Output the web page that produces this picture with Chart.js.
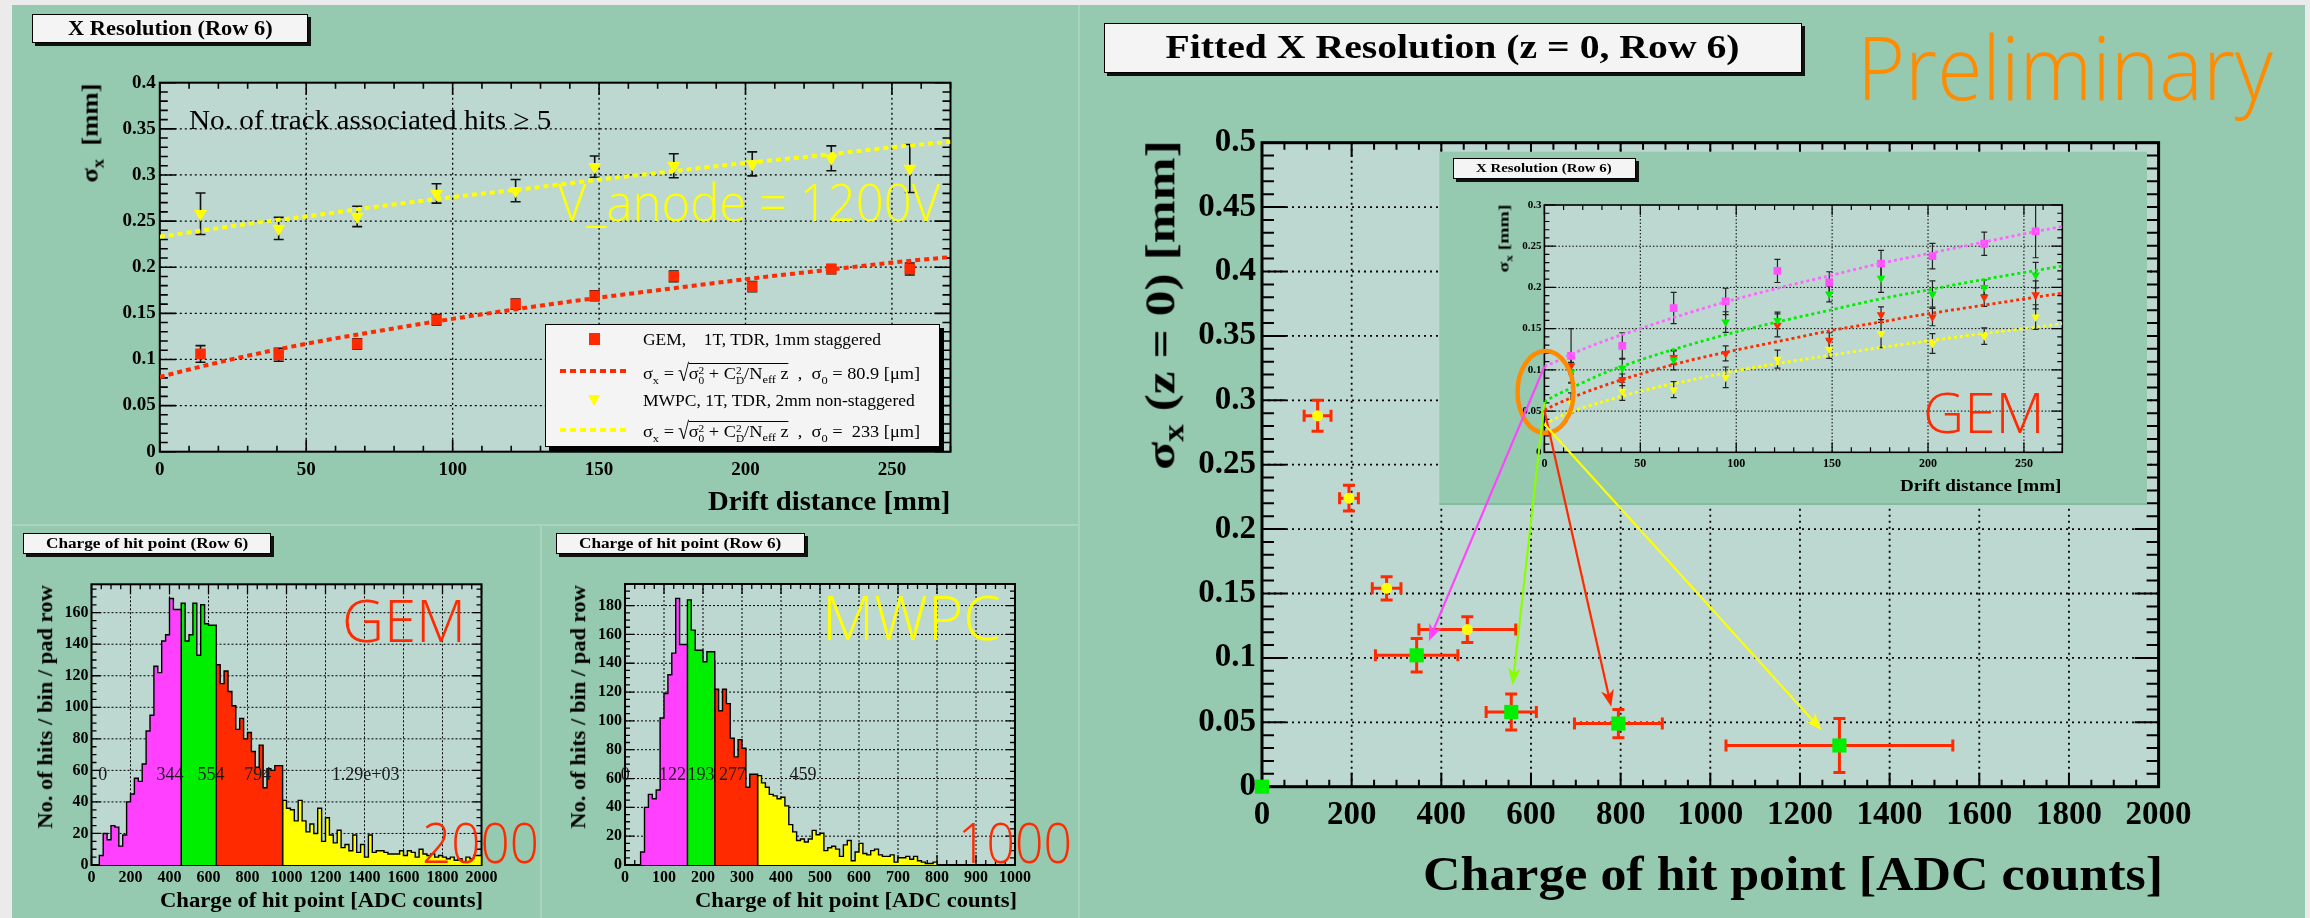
<!DOCTYPE html>
<html>
<head>
<meta charset="utf-8">
<title>X resolution vs hit charge</title>
<script src="https://cdn.jsdelivr.net/npm/chart.js@4.4.1/dist/chart.umd.min.js"></script>
<style>
  body { margin: 0; background: #ebebeb; }
  #page { position: relative; width: 2310px; height: 918px; overflow: hidden; background: #ebebeb;
          font-family: "Liberation Serif", "Times New Roman", serif; color: #000; }
  .pane { position: absolute; background: #95c9b0; }
  canvas { position: absolute; }
  .tbox { position: absolute; box-sizing: border-box; background: #f4f4f4; border: 1.5px solid #000;
          box-shadow: 3px 3px 0 #111; display: flex; align-items: center; justify-content: center;
          font-weight: bold; white-space: nowrap; }
  .tbox span { display: inline-block; }
  .txt { position: absolute; white-space: nowrap; line-height: 1; transform-origin: 0 0; }
  .txt sub, .txt sup { line-height: 0; font-size: 0.68em; }
  .bl { display: inline-block; width: 0; height: 0; }
  .big { font-family: "Open Sans", sans-serif; font-weight: 300; }
  .bold { font-weight: bold; }
  .ss { display: inline-flex; flex-direction: column; font-size: 0.62em; line-height: 1; vertical-align: 0.55em; }
  .ss span { display: block; }
  .rad { display: inline-block; transform: scale(1.1, 1.5); transform-origin: 50% 62%; }
  .ov { border-top: 1.5px solid #000; padding-top: 1px; }
</style>
</head>
<body>
<div id="page">
  <div class="pane" style="left:12px;top:5px;width:2293px;height:913px;background:#a8d4bf"></div>
  <div class="pane" style="left:12px;top:5px;width:1066px;height:519px"></div>
  <div class="pane" style="left:12px;top:526px;width:528px;height:392px"></div>
  <div class="pane" style="left:542px;top:526px;width:536px;height:392px"></div>
  <div class="pane" style="left:1080px;top:5px;width:1225px;height:913px"></div>
</div>
<script>
// ---- top left: X resolution vs drift distance ----
const driftX = [13.9, 40.6, 67.4, 94.5, 121.5, 148.5, 175.5, 202.3, 229.3, 256.1];
const tlGem = [0.106, 0.105, 0.117, 0.143, 0.160, 0.169, 0.190, 0.179, 0.198, 0.198];
const tlGemErr = [0.009, 0.007, 0.0055, 0.0057, 0.0055, 0.0054, 0.0057, 0.0055, 0.005, 0.0065];
const tlMwpc = [0.258, 0.242, 0.255, 0.280, 0.283, 0.309, 0.310, 0.312, 0.318, 0.307];
const tlMwpcErr = [0.0225, 0.012, 0.011, 0.0105, 0.012, 0.0115, 0.013, 0.013, 0.0135, 0.026];
const tlFitX = [0, 15, 30, 50, 75, 100, 125, 150, 175, 200, 225, 250, 270];
const tlGemFit = [0.081, 0.093, 0.104, 0.117, 0.131, 0.144, 0.156, 0.167, 0.177, 0.187, 0.196, 0.205, 0.211];
const tlMwpcFit = [0.233, 0.240, 0.247, 0.255, 0.266, 0.276, 0.285, 0.295, 0.304, 0.313, 0.321, 0.330, 0.336];

// ---- charge histograms (20 ADC bins for GEM, 10 ADC bins for MWPC) ----
const gemCounts = [
  0, 0, 0, 6, 20, 16, 25, 24, 12, 19,
  40, 45, 55, 53, 64, 85, 95, 126, 122, 142,
  146, 169, 162, 158, 166, 142, 146, 166, 133, 165,
  153, 152, 80, 127, 115, 123, 110, 101, 86, 93,
  80, 84, 72, 62, 76, 49, 61, 60, 63, 22,
  41, 36, 35, 28, 41, 28, 21, 26, 20, 36,
  15, 30, 19, 14, 22, 11, 13, 9, 19, 8,
  13, 5, 19, 8, 9, 9, 8, 7, 7, 7,
  9, 6, 9, 8, 5, 10, 7, 6, 7, 5,
  6, 5, 4, 5, 3, 4, 2, 5, 4, 6];
const mwpcCounts = [
  0, 0, 0, 0, 0, 9, 40, 49, 46, 52,
  102, 119, 132, 147, 185, 153, 164, 184, 163, 149,
  149, 141, 148, 142, 122, 107, 122, 112, 88, 75,
  87, 81, 54, 63, 60, 62, 57, 54, 49, 48,
  46, 47, 41, 28, 23, 17, 18, 16, 18, 24,
  21, 22, 10, 12, 13, 11, 6, 14, 17, 3,
  9, 15, 8, 7, 10, 11, 7, 6, 6, 7,
  2, 5, 5, 6, 4, 6, 3, 2, 1, 1,
  2, 0, 0, 0, 0, 0, 0, 0, 0, 0,
  0, 0, 0, 0, 0, 0, 0, 0, 0, 0];
const gemBandEdges = [0, 460, 640, 980, 2000];
const mwpcBandEdges = [0, 160, 230, 340, 1000];
const gemMeanText = ['0', '344', '554', '794', '1.29e+03'];
const gemMeanTextX = [34, 333, 544, 783, 1232];
const mwpcMeanText = ['0', '122', '193', '277', '459'];
const mwpcMeanTextX = [-11, 87, 160, 241, 422];

// ---- right: fitted sigma_0 vs charge ----
const mwpcQ = [124, 194, 278, 458];
const mwpcQErr = [30, 21, 32, 108];
const mwpcS0 = [0.288, 0.224, 0.154, 0.122];
const mwpcS0Err = [0.012, 0.010, 0.009, 0.010];
const gemQ = [0, 345, 556, 795, 1288];
const gemQErr = [0, 92, 56, 98, 253];
const gemS0 = [0, 0.102, 0.058, 0.049, 0.032];
const gemS0Err = [0, 0.013, 0.014, 0.011, 0.021];
const arrowToQ = [372, 559, 779, 1248];
const arrowToS = [0.113, 0.079, 0.062, 0.044];

// ---- inset: GEM resolution per charge band ----
const insMag = [0.117, 0.129, 0.175, 0.183, 0.220, 0.206, 0.229, 0.238, 0.253, 0.268];
const insMagErr = [0.033, 0.016, 0.019, 0.016, 0.014, 0.013, 0.016, 0.0155, 0.014, 0.032];
const insGreen = [0.097, 0.102, 0.112, 0.158, 0.160, 0.192, 0.211, 0.192, 0.200, 0.215];
const insGreenErr = [0.012, 0.012, 0.012, 0.0125, 0.010, 0.0095, 0.017, 0.016, 0.009, 0.0155];
const insRed = [0.105, 0.088, 0.115, 0.120, 0.154, 0.136, 0.167, 0.164, 0.188, 0.191];
const insRedErr = [0.010, 0.007, 0.008, 0.009, 0.014, 0.009, 0.0095, 0.0105, 0.011, 0.017];
const insYellow = [0.060, 0.074, 0.076, 0.091, 0.113, 0.125, 0.144, 0.132, 0.141, 0.164];
const insYellowErr = [0.012, 0.011, 0.0097, 0.0125, 0.011, 0.011, 0.017, 0.012, 0.010, 0.015];
const insFitX = [0, 5, 15, 30, 50, 75, 100, 125, 150, 175, 200, 225, 250, 270];
const insMagFit = [0.104, 0.109, 0.120, 0.134, 0.150, 0.169, 0.186, 0.201, 0.215, 0.229, 0.241, 0.253, 0.265, 0.274];
const insGreenFit = [0.061, 0.068, 0.079, 0.095, 0.112, 0.130, 0.146, 0.160, 0.173, 0.186, 0.197, 0.208, 0.218, 0.226];
const insRedFit = [0.051, 0.057, 0.067, 0.080, 0.095, 0.111, 0.124, 0.136, 0.148, 0.158, 0.168, 0.177, 0.186, 0.193];
const insYellowFit = [0.034, 0.040, 0.050, 0.061, 0.074, 0.087, 0.099, 0.109, 0.118, 0.127, 0.135, 0.143, 0.150, 0.156];

const RED = '#ff2a00', YEL = '#ffff00', GRN = '#00ee00', MAG = '#ff50ff';
const bandColors = ['#ff40ff', '#00ee00', '#ff2a00', '#ffff00'];
const PLOT_BG = '#bdd8d0', PANE = '#95c9b0';

Chart.defaults.font.family = 'Liberation Serif';
Chart.defaults.animation = false;
Chart.defaults.events = [];
Chart.defaults.plugins.legend.display = false;
Chart.defaults.plugins.tooltip.enabled = false;

const page = document.getElementById('page');
const deco = {};   // per-canvas drawing settings for the plugins below

function tickVals(min, max, step) {
  const out = [];
  for (let k = Math.ceil(min / step - 1e-6); k * step <= max + 1e-9; k++) out.push(k * step);
  return out;
}

// ROOT-like frame: plot background, dotted grid, inward ticks on all sides
const rootFrame = {
  id: 'rootFrame',
  beforeDraw(chart) {
    const d = deco[chart.canvas.id], a = chart.chartArea, ctx = chart.ctx;
    ctx.save();
    if (d.box) {
      ctx.fillStyle = PANE;
      ctx.fillRect(a.left - d.box[0], a.top - d.box[1], a.right - a.left + d.box[0] + d.box[2], a.bottom - a.top + d.box[1] + d.box[3]);
      ctx.fillStyle = '#83bb9f';
      ctx.fillRect(a.left - d.box[0], a.bottom + d.box[3] - 2, a.right - a.left + d.box[0] + d.box[2], 2);
    }
    ctx.fillStyle = PLOT_BG;
    ctx.fillRect(a.left, a.top, a.right - a.left, a.bottom - a.top);
    ctx.restore();
  },
  beforeDatasetsDraw(chart) {
    const d = deco[chart.canvas.id], a = chart.chartArea, ctx = chart.ctx;
    const xs = chart.scales.x, ys = chart.scales.y;
    ctx.save();
    ctx.strokeStyle = '#000';
    ctx.lineWidth = d.gridW;
    ctx.setLineDash(d.dash);
    ctx.beginPath();
    tickVals(xs.min, xs.max, d.x[0]).forEach(v => {
      const p = xs.getPixelForValue(v);
      if (p > a.left + 2 && p < a.right - 2) { ctx.moveTo(p, a.top); ctx.lineTo(p, a.bottom); }
    });
    tickVals(ys.min, ys.max, d.y[0]).forEach(v => {
      const p = ys.getPixelForValue(v);
      if (p > a.top + 2 && p < a.bottom - 2) { ctx.moveTo(a.left, p); ctx.lineTo(a.right, p); }
    });
    ctx.stroke();
    ctx.setLineDash([]);
    ctx.lineWidth = d.tickW;
    ctx.beginPath();
    [[d.x[0], d.x[2]], [d.x[1], d.x[3]]].forEach(([step, len]) => {
      tickVals(xs.min, xs.max, step).forEach(v => {
        const p = xs.getPixelForValue(v);
        ctx.moveTo(p, a.bottom); ctx.lineTo(p, a.bottom - len);
        ctx.moveTo(p, a.top); ctx.lineTo(p, a.top + len);
      });
    });
    [[d.y[0], d.y[2]], [d.y[1], d.y[3]]].forEach(([step, len]) => {
      tickVals(ys.min, ys.max, step).forEach(v => {
        const p = ys.getPixelForValue(v);
        ctx.moveTo(a.left, p); ctx.lineTo(a.left + len, p);
        ctx.moveTo(a.right, p); ctx.lineTo(a.right - len, p);
      });
    });
    ctx.stroke();
    ctx.lineWidth = d.frameW;
    ctx.strokeRect(a.left, a.top, a.right - a.left, a.bottom - a.top);
    ctx.restore();
  }
};

// error bars with end caps, read from x/y/ex/ey of each point
const errorBars = {
  id: 'errorBars',
  beforeDatasetsDraw(chart) {
    const ctx = chart.ctx;
    chart.data.datasets.forEach((ds, i) => {
      const eb = ds.errorBars;
      if (!eb) return;
      const meta = chart.getDatasetMeta(i);
      const xs = chart.scales[meta.xAxisID], ys = chart.scales[meta.yAxisID];
      ctx.save();
      ctx.strokeStyle = eb.color;
      ctx.lineWidth = eb.width;
      ctx.beginPath();
      ds.data.forEach(p => {
        const px = xs.getPixelForValue(p.x), py = ys.getPixelForValue(p.y), c = eb.cap / 2;
        if (p.ey) {
          const y1 = ys.getPixelForValue(p.y - p.ey), y2 = ys.getPixelForValue(p.y + p.ey);
          ctx.moveTo(px, y1); ctx.lineTo(px, y2);
          ctx.moveTo(px - c, y1); ctx.lineTo(px + c, y1);
          ctx.moveTo(px - c, y2); ctx.lineTo(px + c, y2);
        }
        if (p.ex) {
          const x1 = xs.getPixelForValue(p.x - p.ex), x2 = xs.getPixelForValue(p.x + p.ex);
          ctx.moveTo(x1, py); ctx.lineTo(x2, py);
          ctx.moveTo(x1, py - c); ctx.lineTo(x1, py + c);
          ctx.moveTo(x2, py - c); ctx.lineTo(x2, py + c);
        }
      });
      ctx.stroke();
      ctx.restore();
    });
  }
};

// band mean values written inside the histograms
const meanLabels = {
  id: 'meanLabels',
  afterDatasetsDraw(chart) {
    const d = deco[chart.canvas.id];
    if (!d.texts) return;
    const ctx = chart.ctx;
    ctx.save();
    ctx.font = '18px "Liberation Serif"';
    ctx.fillStyle = '#1a1a1a';
    ctx.textAlign = 'left';
    ctx.textBaseline = 'middle';
    d.texts.forEach((t, i) => ctx.fillText(t, chart.scales.x.getPixelForValue(d.textX[i]), chart.scales.y.getPixelForValue(d.textY)));
    ctx.restore();
  }
};

let mainChart = null;
function drawArrow(ctx, x0, y0, x1, y1, color) {
  const ang = Math.atan2(y1 - y0, x1 - x0), c = Math.cos(ang), s = Math.sin(ang);
  const L = 17, W = 6.5;
  ctx.strokeStyle = color; ctx.fillStyle = color; ctx.lineWidth = 2.2;
  ctx.beginPath(); ctx.moveTo(x0, y0); ctx.lineTo(x1 - 10 * c, y1 - 10 * s); ctx.stroke();
  const bx = x1 - L * c, by = y1 - L * s;
  ctx.beginPath();
  ctx.moveTo(x1, y1);
  ctx.lineTo(bx - W * s, by + W * c);
  ctx.lineTo(x1 - 0.72 * L * c, y1 - 0.72 * L * s);
  ctx.lineTo(bx + W * s, by - W * c);
  ctx.closePath(); ctx.fill();
}
// orange ring round the inset origin and arrows to the fitted points
const insetArrows = {
  id: 'insetArrows',
  afterDraw(chart) {
    if (!mainChart) return;
    const ctx = chart.ctx, xs = chart.scales.x, ys = chart.scales.y;
    const ms = mainChart.scales;
    ctx.save();
    ctx.strokeStyle = '#ff8c00'; ctx.lineWidth = 4.5;
    ctx.beginPath();
    ctx.ellipse(xs.getPixelForValue(0.6), ys.getPixelForValue(0.073), 28, 41, 0, 0, Math.PI * 2);
    ctx.stroke();
    const starts = [insMagFit[0], insGreenFit[0], insRedFit[0], insYellowFit[0]];
    const cols = ['#ff44ff', '#88ff00', '#ff2a00', '#ffff00'];
    starts.forEach((s0, i) => drawArrow(ctx, xs.getPixelForValue(0), ys.getPixelForValue(s0),
      ms.x.getPixelForValue(arrowToQ[i]), ms.y.getPixelForValue(arrowToS[i]), cols[i]));
    ctx.restore();
  }
};

function makeCanvas(id, cv) {
  const c = document.createElement('canvas');
  c.id = id; c.width = cv.w; c.height = cv.h;
  c.style.left = cv.x + 'px'; c.style.top = cv.y + 'px';
  page.appendChild(c);
  return c;
}
function padFor(cv, pl, yW, xH) {
  return { left: pl.l - cv.x - yW, top: pl.t - cv.y, right: cv.x + cv.w - pl.r, bottom: cv.y + cv.h - pl.b - xH };
}
function axis(min, max, step, size, pad, fixed, isY) {
  return {
    type: 'linear', min, max,
    grid: { display: false, drawTicks: false },
    border: { display: false },
    ticks: {
      stepSize: step, autoSkip: false, maxRotation: 0, minRotation: 0, includeBounds: false,
      padding: pad, color: '#000', font: { family: 'Liberation Serif', weight: 'bold', size },
      callback: v => String(Math.round(v * 1000) / 1000)
    },
    afterFit: s => { if (isY) s.width = fixed; else s.height = fixed; }
  };
}
function pts(xs, ys, errs) {
  return xs.map((x, i) => ({ x, y: ys[i], ey: errs ? errs[i] : 0 }));
}
function curve(xs, ys, color, width, dash) {
  return { data: pts(xs, ys), showLine: true, pointRadius: 0, borderColor: color, borderWidth: width,
           borderDash: dash, cubicInterpolationMode: 'monotone', fill: false };
}
function histSets(counts, edges, w) {
  const sets = [];
  for (let b = 0; b < 4; b++) {
    const lo = edges[b], hi = edges[b + 1];
    const data = [{ x: lo, y: 0 }];
    for (let i = Math.round(lo / w); i < Math.round(hi / w); i++) data.push({ x: i * w, y: counts[i] });
    data.push({ x: hi, y: counts[Math.round(hi / w) - 1] }, { x: hi, y: 0 });
    sets.push({ data, showLine: true, stepped: 'after', fill: 'origin', backgroundColor: bandColors[b],
                borderColor: '#000', borderWidth: 1.4, pointRadius: 0 });
  }
  return sets;
}
const plugins = [rootFrame, errorBars, meanLabels, insetArrows];

// ===== top-left chart =====
(function () {
  const cv = { x: 12, y: 5, w: 1066, h: 519 }, pl = { l: 159.8, t: 82.7, r: 950.5, b: 451.7 };
  deco.tl = { gridW: 1.3, dash: [2, 3], tickW: 1.6, frameW: 2, x: [50, 10, 12, 6], y: [0.05, 0.01, 16, 8] };
  new Chart(makeCanvas('tl', cv), {
    type: 'scatter',
    data: { datasets: [
      { data: pts(driftX, tlGem, tlGemErr), pointStyle: 'rect', pointRadius: 7.5, backgroundColor: RED, borderWidth: 0,
        errorBars: { color: '#111', width: 1.6, cap: 10 } },
      { data: pts(driftX, tlMwpc, tlMwpcErr), pointStyle: 'triangle', pointRotation: 180, pointRadius: 7.5,
        backgroundColor: YEL, borderWidth: 0, errorBars: { color: '#111', width: 1.6, cap: 10 } },
      curve(tlFitX, tlGemFit, RED, 4, [5, 4]),
      curve(tlFitX, tlMwpcFit, YEL, 4, [5, 4])
    ] },
    options: {
      responsive: false, devicePixelRatio: 1,
      layout: { padding: padFor(cv, pl, 60, 30) },
      scales: { x: axis(0, 270, 50, 19, 7, 30, false), y: axis(0, 0.4, 0.05, 19, 4, 60, true) }
    },
    plugins
  });
})();

// ===== histograms =====
function histogram(id, cv, pl, counts, edges, w, xmax, xstep, xminor, ymax, texts, textX, textY) {
  deco[id] = { gridW: 1, dash: [2, 2], tickW: 1.3, frameW: 2, x: [xstep, xminor, 10, 5], y: [20, 5, 9, 5],
               texts, textX, textY };
  new Chart(makeCanvas(id, cv), {
    type: 'scatter',
    data: { datasets: histSets(counts, edges, w) },
    options: {
      responsive: false, devicePixelRatio: 1,
      layout: { padding: padFor(cv, pl, 40, 24) },
      scales: { x: axis(0, xmax, xstep, 16, 3, 24, false), y: axis(0, ymax, 20, 16, 3, 40, true) }
    },
    plugins
  });
}
histogram('gem', { x: 12, y: 526, w: 528, h: 392 }, { l: 91.5, t: 584.3, r: 481.5, b: 865 },
  gemCounts, gemBandEdges, 20, 2000, 200, 50, 178, gemMeanText, gemMeanTextX, 57);
histogram('mwpc', { x: 542, y: 526, w: 536, h: 392 }, { l: 625, t: 584, r: 1015, b: 865 },
  mwpcCounts, mwpcBandEdges, 10, 1000, 100, 25, 195, mwpcMeanText, mwpcMeanTextX, 62.5);

// ===== right: main chart and inset =====
(function () {
  const cv = { x: 1080, y: 0, w: 1230, h: 918 };
  const pl = { l: 1262, t: 142.7, r: 2158.6, b: 786.7 };
  deco.main = { gridW: 1.8, dash: [2, 4], tickW: 2, frameW: 3, x: [200, 50, 14, 7], y: [0.05, 0.01, 24, 12] };
  mainChart = new Chart(makeCanvas('main', cv), {
    type: 'scatter',
    data: { datasets: [
      { data: mwpcQ.map((q, i) => ({ x: q, y: mwpcS0[i], ex: mwpcQErr[i], ey: mwpcS0Err[i] })),
        pointStyle: 'circle', pointRadius: 5.5, backgroundColor: YEL, borderWidth: 0,
        errorBars: { color: RED, width: 3, cap: 12 } },
      { data: gemQ.map((q, i) => ({ x: q, y: gemS0[i], ex: gemQErr[i], ey: gemS0Err[i] })),
        pointStyle: 'rect', pointRadius: 10, backgroundColor: GRN, borderWidth: 0, clip: false,
        errorBars: { color: RED, width: 3, cap: 12 } }
    ] },
    options: {
      responsive: false, devicePixelRatio: 1,
      layout: { padding: padFor(cv, pl, 90, 40) },
      scales: { x: axis(0, 2000, 200, 33, 9, 40, false), y: axis(0, 0.5, 0.05, 33, 6, 90, true) }
    },
    plugins
  });

  const ipl = { l: 1544.4, t: 205, r: 2062.3, b: 452.3 };
  deco.inset = { gridW: 1, dash: [1.5, 2], tickW: 1.2, frameW: 1.6, x: [50, 10, 10, 5], y: [0.05, 0.01, 11, 5],
                 box: [105, 53.3, 84.7, 52.7] };
  const eb = { color: '#222', width: 1.2, cap: 6 };
  new Chart(makeCanvas('inset', cv), {
    type: 'scatter',
    data: { datasets: [
      curve(insFitX, insMagFit, '#ff66ff', 2.8, [3, 3]),
      curve(insFitX, insGreenFit, GRN, 2.8, [3, 3]),
      curve(insFitX, insRedFit, RED, 2.8, [3, 3]),
      curve(insFitX, insYellowFit, YEL, 2.8, [3, 3]),
      { data: pts(driftX, insMag, insMagErr), pointStyle: 'rect', pointRadius: 5.5, backgroundColor: MAG, borderWidth: 0, errorBars: eb },
      { data: pts(driftX, insGreen, insGreenErr), pointStyle: 'triangle', pointRotation: 180, pointRadius: 5, backgroundColor: GRN, borderWidth: 0, errorBars: eb },
      { data: pts(driftX, insRed, insRedErr), pointStyle: 'triangle', pointRotation: 180, pointRadius: 5, backgroundColor: RED, borderWidth: 0, errorBars: eb },
      { data: pts(driftX, insYellow, insYellowErr), pointStyle: 'triangle', pointRotation: 180, pointRadius: 5, backgroundColor: YEL, borderWidth: 0, errorBars: eb }
    ] },
    options: {
      responsive: false, devicePixelRatio: 1,
      layout: { padding: padFor(cv, ipl, 40, 20) },
      scales: { x: axis(0, 270, 50, 12, 4, 20, false), y: axis(0, 0.3, 0.05, 11, 3, 40, true) }
    },
    plugins
  });
})();

// ===== text, title boxes and legend =====
function addText(html, o) {
  const el = document.createElement('div');
  el.className = 'txt' + (o.cls ? ' ' + o.cls : '');
  el.style.fontSize = o.size + 'px';
  if (o.color) el.style.color = o.color;
  el.innerHTML = html + '<span class="bl"></span>';
  page.appendChild(el);
  const w0 = el.offsetWidth, h0 = el.offsetHeight;
  const k = o.w ? o.w / w0 : 1;
  if (o.rot) {
    el.style.left = (o.cx - w0 / 2) + 'px';
    el.style.top = (o.cy - h0 / 2) + 'px';
    el.style.transformOrigin = '50% 50%';
    el.style.transform = 'rotate(-90deg) scaleX(' + k + ')';
  } else {
    el.style.left = o.x + 'px';
    el.style.top = (o.y - el.querySelector('.bl').offsetTop) + 'px';
    el.style.transform = 'scaleX(' + k + ')';
  }
  return el;
}
function titleBox(text, x, y, w, h, size, tw) {
  const b = document.createElement('div');
  b.className = 'tbox';
  Object.assign(b.style, { left: x + 'px', top: y + 'px', width: w + 'px', height: h + 'px', fontSize: size + 'px' });
  const s = document.createElement('span');
  s.textContent = text;
  b.appendChild(s);
  page.appendChild(b);
  if (tw) s.style.transform = 'scaleX(' + (tw / s.offsetWidth) + ')';
}
function box(style) {
  const d = document.createElement('div');
  d.style.position = 'absolute';
  Object.assign(d.style, style);
  page.appendChild(d);
}

// top-left
titleBox('X Resolution (Row 6)', 32, 14, 276, 29, 20, 205);
addText('No. of track associated hits ≥ 5', { x: 189, y: 129, size: 28, w: 362 });
addText('V_anode = 1200V', { x: 558, y: 221, size: 52, w: 382, cls: 'big', color: YEL });
addText('σ<sub>x</sub>&nbsp;&nbsp;[mm]', { rot: true, cx: 89.5, cy: 132.5, size: 24, w: 99, cls: 'bold' });
addText('Drift distance [mm]', { x: 708, y: 510, size: 28, w: 242, cls: 'bold' });

box({ left: '545px', top: '324px', width: '395px', height: '123px', background: '#f4f4f4',
      border: '1px solid #000', boxShadow: '4px 4px 0 #000', boxSizing: 'border-box' });
box({ left: '589px', top: '333px', width: '11px', height: '12px', background: RED });
box({ left: '560px', top: '369px', width: '68px', height: '4px',
      background: 'repeating-linear-gradient(90deg,' + RED + ' 0 6px, transparent 6px 10px)' });
box({ left: '588px', top: '395px', width: '0', height: '0', borderLeft: '6.5px solid transparent',
      borderRight: '6.5px solid transparent', borderTop: '11px solid ' + YEL });
box({ left: '560px', top: '428px', width: '68px', height: '4px',
      background: 'repeating-linear-gradient(90deg,' + YEL + ' 0 6px, transparent 6px 10px)' });
const formula = s0 => 'σ<sub>x</sub> = <span class="rad">√</span><span class="ov">σ<span class="ss"><span>2</span><span>0</span></span> + C<span class="ss"><span>2</span><span>D</span></span>/N<sub>eff</sub> z</span>&nbsp; ,&nbsp; σ<sub>0</sub> = ' + s0 + ' [μm]';
addText('GEM,&nbsp;&nbsp;&nbsp; 1T, TDR, 1mm staggered', { x: 643, y: 345, size: 16, w: 238 });
addText(formula('80.9'), { x: 643, y: 379, size: 16, w: 277 });
addText('MWPC, 1T, TDR, 2mm non-staggered', { x: 643, y: 406, size: 16, w: 272 });
addText(formula('&nbsp;233'), { x: 643, y: 437, size: 16, w: 277 });

// histograms
titleBox('Charge of hit point (Row 6)', 22.6, 533, 248.5, 21, 15, 202);
titleBox('Charge of hit point (Row 6)', 555.5, 533, 249.5, 21, 15, 202);
addText('No. of hits / bin / pad row', { rot: true, cx: 45, cy: 706.5, size: 20, w: 243, cls: 'bold' });
addText('No. of hits / bin / pad row', { rot: true, cx: 578, cy: 706.5, size: 20, w: 243, cls: 'bold' });
addText('Charge of hit point [ADC counts]', { x: 160, y: 907, size: 20, w: 323, cls: 'bold' });
addText('Charge of hit point [ADC counts]', { x: 695, y: 907, size: 20, w: 322, cls: 'bold' });
addText('GEM', { x: 342, y: 642, size: 59, w: 124, cls: 'big', color: RED });
addText('2000', { x: 422, y: 863, size: 56, w: 117, cls: 'big', color: RED });
addText('MWPC', { x: 822, y: 640, size: 60, w: 179, cls: 'big', color: YEL });
addText('1000', { x: 958, y: 863, size: 56, w: 114, cls: 'big', color: RED });

// right
titleBox('Fitted X Resolution (z = 0, Row 6)', 1103.5, 22.7, 698, 50.6, 33, 574);
addText('Preliminary', { x: 1857, y: 100, size: 88, w: 416, cls: 'big', color: '#ff8c00' });
addText('σ<sub>x</sub> (z = 0) [mm]', { rot: true, cx: 1160.5, cy: 305, size: 42, w: 330, cls: 'bold' });
addText('Charge of hit point [ADC counts]', { x: 1423, y: 890, size: 48, w: 740, cls: 'bold' });
titleBox('X Resolution (Row 6)', 1452.6, 158, 183, 21, 12, 136);
addText('Drift distance [mm]', { x: 1900, y: 491, size: 17, w: 162, cls: 'bold' });
addText('σ<sub>x</sub>&nbsp;[mm]', { rot: true, cx: 1503.5, cy: 238, size: 15, w: 68, cls: 'bold' });
addText('GEM', { x: 1923, y: 433, size: 56, w: 122, cls: 'big', color: RED });
</script>
</body>
</html>
